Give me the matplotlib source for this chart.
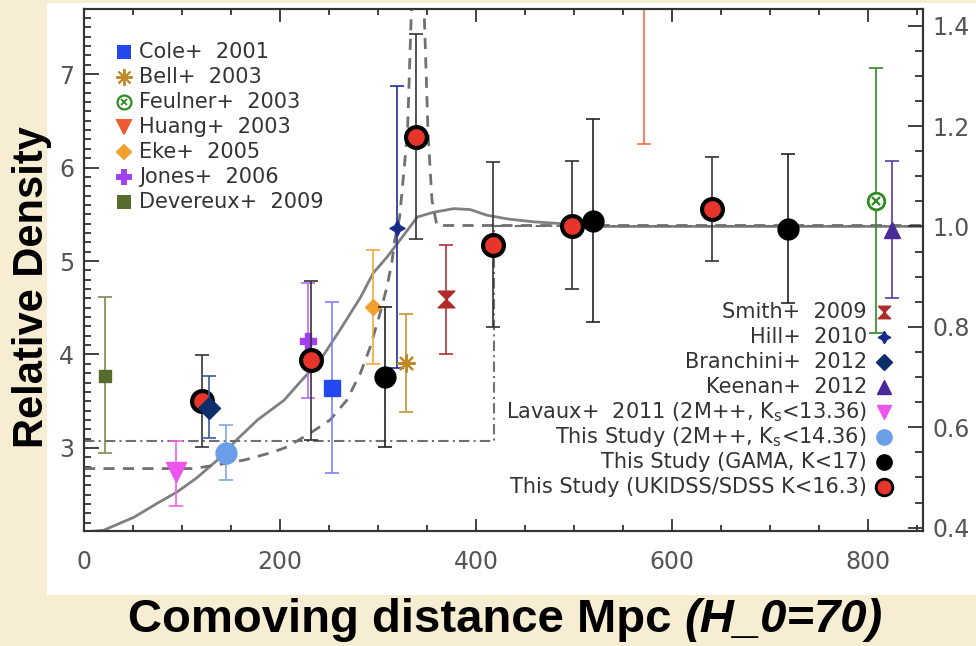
import numpy as np
import matplotlib
matplotlib.use('Agg')
import matplotlib.pyplot as plt
from matplotlib.ticker import MultipleLocator
from matplotlib.patches import Rectangle

mean_density = 5.37  # level of the right-hand axis 1.0

# model curves
solid_x = [0, 20, 51, 75, 95, 115, 136, 156, 177, 204, 220, 241, 261, 282, 295, 309,
           330, 340, 356, 377, 394, 411, 432, 458, 486, 510, 856]
solid_y = [2.10, 2.12, 2.26, 2.41, 2.53, 2.68, 2.87, 3.09, 3.30, 3.51, 3.70, 3.94, 4.26,
           4.61, 4.87, 5.04, 5.33, 5.47, 5.52, 5.56, 5.55, 5.49, 5.45, 5.42, 5.40, 5.37, 5.37]
dash_x = [0, 112, 136, 163, 191, 207, 231, 251, 268, 282, 292, 302, 309, 314, 317, 322,
          330, 334, 335, 347, 347, 351, 355, 360, 856]
dash_y = [2.78, 2.78, 2.82, 2.87, 2.95, 3.01, 3.16, 3.30, 3.51, 3.80, 4.08, 4.44, 4.72,
          4.98, 5.22, 5.47, 6.37, 7.68, 8.2, 8.2, 7.68, 6.37, 5.65, 5.38, 5.38]
dashdot_x = [0, 418, 418, 856]
dashdot_y = [3.07, 3.07, 5.37, 5.37]

# literature points: distance, density, lower error, upper error
devereux_x, devereux_y, devereux_lo, devereux_hi = [21], [3.77], [0.82], [0.84]
cole_x, cole_y, cole_lo, cole_hi = [253], [3.64], [0.91], [0.92]
bell_x, bell_y, bell_lo, bell_hi = [328], [3.91], [0.52], [0.52]
feulner_x, feulner_y, feulner_lo, feulner_hi = [808], [5.64], [1.41], [1.42]
huang_x, huang_y, huang_lo, huang_hi = [571], [8.3], [2.05], [0.5]
eke_x, eke_y, eke_lo, eke_hi = [295], [4.51], [0.61], [0.61]
jones_x, jones_y, jones_lo, jones_hi = [229], [4.14], [0.61], [0.62]
smith_x, smith_y, smith_lo, smith_hi = [369], [4.59], [0.59], [0.58]
hill_x, hill_y, hill_lo, hill_hi = [319], [5.35], [1.49], [1.52]
branchini_x, branchini_y, branchini_lo, branchini_hi = [128], [3.43], [0.32], [0.34]
keenan_x, keenan_y, keenan_lo, keenan_hi = [824], [5.33], [0.73], [0.74]
lavaux_x, lavaux_y, lavaux_lo, lavaux_hi = [94], [2.74], [0.36], [0.33]

# this study
mpp_x, mpp_y, mpp_lo, mpp_hi = [145], [2.95], [0.29], [0.30]
gama_x = [307, 519, 718]
gama_y = [3.76, 5.43, 5.34]
gama_lo = [0.75, 1.08, 0.79]
gama_hi = [0.75, 1.09, 0.80]
uk_x = [120, 232, 339, 417, 498, 641]
uk_y = [3.50, 3.94, 6.33, 5.17, 5.37, 5.56]
uk_lo = [0.49, 0.85, 1.09, 0.88, 0.67, 0.56]
uk_hi = [0.49, 0.85, 1.10, 0.89, 0.70, 0.55]

hourglass = [(-1, 1), (1, 1), (-1, -1), (1, -1), (-1, 1)]

fig = plt.figure(figsize=(9.76, 6.46), dpi=100)
fig.patch.set_facecolor('#f7edd2')
fig.patches.append(Rectangle((0.048, 0.079), 0.952, 0.917, transform=fig.transFigure,
                             facecolor='white', edgecolor='none', zorder=-10))
ax = fig.add_axes([0.0861, 0.178, 0.8596, 0.808])
ax.set_facecolor('white')

ax.plot(solid_x, solid_y, color='#808080', lw=2, zorder=2)
ax.plot(dash_x, dash_y, color='#707070', lw=2, ls=(0, (4, 3)), zorder=2)
ax.plot(dashdot_x, dashdot_y, color='#707070', lw=1.5, ls=(0, (5, 2, 1, 2)), zorder=2)


def survey(x, y, lo, hi, ecol, marker, ms, mfc, mec=None, mew=1, lw=1.2, cap=5, z=4):
    ax.errorbar(x, y, yerr=[lo, hi], fmt='none', ecolor=ecol, elinewidth=lw,
                capsize=cap, capthick=lw, zorder=z)
    ax.plot(x, y, ls='none', marker=marker, ms=ms, mfc=mfc,
            mec=mec if mec else mfc, mew=mew, zorder=z + 0.5)


survey(devereux_x, devereux_y, devereux_lo, devereux_hi, '#7c8c50', 's', 9, '#566b2c')
survey(cole_x, cole_y, cole_lo, cole_hi, '#8080ff', 's', 12, '#2448f0')
survey(bell_x, bell_y, bell_lo, bell_hi, '#c99530', (8, 2, 0), 13, '#c08a28', mew=1.6)
survey(huang_x, huang_y, huang_lo, huang_hi, '#ff6a42', 'v', 12, '#f05a30')
survey(eke_x, eke_y, eke_lo, eke_hi, '#f5a842', 'D', 8, '#f0a030')
survey(jones_x, jones_y, jones_lo, jones_hi, '#b56cff', 'P', 11, '#a040f0')
survey(smith_x, smith_y, smith_lo, smith_hi, '#b03030', hourglass, 12, '#b02a2a')
survey(hill_x, hill_y, hill_lo, hill_hi, '#1f2d99', (4, 1, 0), 11, '#1a2a8a')
survey(keenan_x, keenan_y, keenan_lo, keenan_hi, '#5a3aaa', '^', 12, '#4a2a9a')
survey(lavaux_x, lavaux_y, lavaux_lo, lavaux_hi, '#f060f0', 'v', 14, '#ee55ee')
survey(mpp_x, mpp_y, mpp_lo, mpp_hi, '#7fa8ee', 'o', 15, '#6a9ee8')
survey(gama_x, gama_y, gama_lo, gama_hi, '#222222', 'o', 15, 'black', z=5)
survey(uk_x, uk_y, uk_lo, uk_hi, '#333333', 'o', 15, '#e8352c', mec='black', mew=3, z=6)
survey(branchini_x, branchini_y, branchini_lo, branchini_hi, '#3b5c9a', 'D', 11,
       '#0d2d6b', z=7)
# Feulner: open circle with a cross
ax.errorbar(feulner_x, feulner_y, yerr=[feulner_lo, feulner_hi], fmt='none',
            ecolor='#2e8b22', elinewidth=1.2, capsize=5, capthick=1.2, zorder=4)
ax.plot(feulner_x, feulner_y, ls='none', marker='o', ms=12, mfc='white', mec='#2e8b22',
        mew=2, zorder=4.5)
ax.plot(feulner_x, feulner_y, ls='none', marker='x', ms=6, mec='#2e8b22', mew=1.6,
        zorder=4.6)

ax.set_xlim(0, 856)
ax.set_ylim(2.112, 7.695)
ax.xaxis.set_major_locator(MultipleLocator(200))
ax.xaxis.set_minor_locator(MultipleLocator(50))
ax.yaxis.set_major_locator(MultipleLocator(1))
ax.yaxis.set_minor_locator(MultipleLocator(0.1))
ax.tick_params(axis='x', which='both', direction='in', top=True, colors='#333333',
               labelcolor='#555555', labelsize=17, pad=14, width=1.3)
ax.tick_params(axis='x', which='major', length=9)
ax.tick_params(axis='x', which='minor', length=4.5)
ax.tick_params(axis='y', which='both', direction='in', colors='#333333',
               labelcolor='#555555', labelsize=17, pad=7, width=1.3)
ax.tick_params(axis='y', which='major', length=11)
ax.tick_params(axis='y', which='minor', length=5)

ax2 = ax.twinx()
ax2.set_ylim(2.112 / mean_density, 7.695 / mean_density)
ax2.yaxis.set_major_locator(MultipleLocator(0.2))
ax2.yaxis.set_minor_locator(MultipleLocator(0.05))
ax2.tick_params(axis='y', which='both', direction='in', colors='#333333',
                labelcolor='#555555', labelsize=17, pad=7, width=1.3)
ax2.tick_params(axis='y', which='major', length=11)
ax2.tick_params(axis='y', which='minor', length=5.5)
for a in (ax, ax2):
    for s in a.spines.values():
        s.set_color('#333333')
        s.set_linewidth(1.5)

# legends
left_labels = ['Cole+  2001', 'Bell+  2003', 'Feulner+  2003', 'Huang+  2003',
               'Eke+  2005', 'Jones+  2006', 'Devereux+  2009']
left_marks = [('s', 9, '#2448f0'), ((8, 2, 0), 12, '#c08a28'), ('feulner', 10, '#2e8b22'),
              ('v', 10, '#f05a30'), ('D', 7, '#f0a030'), ('P', 10, '#a040f0'),
              ('s', 9, '#566b2c')]
for i, (lab, (m, ms, c)) in enumerate(zip(left_labels, left_marks)):
    yy = 0.9176 - i * 0.0479
    if m == 'feulner':
        ax.plot(0.0477, yy, 'o', ms=ms, mfc='white', mec=c, mew=1.6, transform=ax.transAxes)
        ax.plot(0.0477, yy, 'x', ms=5, mec=c, mew=1.3, transform=ax.transAxes)
    else:
        ax.plot(0.0477, yy, marker=m, ms=ms, color=c, mec=c, mew=1.4, transform=ax.transAxes)
    ax.text(0.066, yy, lab, transform=ax.transAxes, fontsize=15, color='#333333',
            va='center', ha='left')

right_labels = ['Smith+  2009', 'Hill+  2010', 'Branchini+  2012', 'Keenan+  2012',
                r'Lavaux+  2011 (2M++, K$_\mathregular{s}$<13.36)',
                r'This Study (2M++, K$_\mathregular{s}$<14.36)',
                'This Study (GAMA, K<17)', 'This Study (UKIDSS/SDSS K<16.3)']
right_marks = [(hourglass, 9, '#b02a2a', None), ((4, 1, 0), 9, '#1a2a8a', None),
               ('D', 8, '#0d2d6b', None), ('^', 10, '#4a2a9a', None),
               ('v', 10, '#ee55ee', None), ('o', 11, '#6a9ee8', None),
               ('o', 11, 'black', None), ('o', 12, '#e8352c', 'black')]
for i, (lab, (m, ms, c, ec)) in enumerate(zip(right_labels, right_marks)):
    yy = 0.4195 - i * 0.0479
    ax.plot(0.9535, yy, marker=m, ms=ms, color=c, mec=ec if ec else c, mew=2 if ec else 1,
            transform=ax.transAxes, zorder=8)
    ax.text(0.933, yy, lab, transform=ax.transAxes, fontsize=15, color='#333333',
            va='center', ha='right', zorder=8)

fig.text(0.033, 0.555, 'Relative Density', rotation=90, ha='center', va='center',
         fontsize=30, fontweight='bold', family='Liberation Sans')

# x label: bold part followed by bold italic part, centred as a whole
t1 = fig.text(0, 0.04, 'Comoving distance Mpc ', ha='left', va='center',
              fontsize=34, fontweight='bold', family='Liberation Sans')
t2 = fig.text(0, 0.04, '(H_0=70)', ha='left', va='center', fontsize=34,
              fontweight='bold', fontstyle='italic', family='Liberation Sans')
fig.canvas.draw()
r = fig.canvas.get_renderer()
w1 = t1.get_window_extent(r).width / fig.bbox.width
w2 = t2.get_window_extent(r).width / fig.bbox.width
x0 = 0.518 - (w1 + w2) / 2
t1.set_x(x0)
t2.set_x(x0 + w1)

fig.savefig('out.png', dpi=100, facecolor=fig.get_facecolor())
